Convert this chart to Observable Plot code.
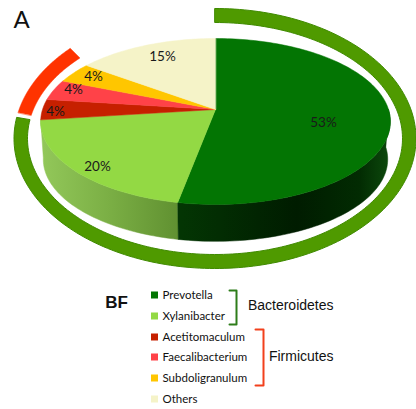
<!DOCTYPE html>
<html><head><meta charset="utf-8">
<script src="https://cdn.jsdelivr.net/npm/d3@7"></script>
<script src="https://cdn.jsdelivr.net/npm/@observablehq/plot@0.6"></script>
<style>html,body{margin:0;padding:0;background:#fff}svg{display:block}</style>
</head><body><div id="chart"></div>
<script>
const genera = ["Prevotella","Xylanibacter","Acetitomaculum","Faecalibacterium","Subdoligranulum","Others"];
const shares = [53,20,4,4,4,15];
const colors = ["#037503","#93d944","#c62000","#ff4248","#ffc600","#f5f3c8"];
const phyla = ["Bacteroidetes","Firmicutes"];
const phylumColors = ["#4f9a00","#ff3300"];
const phylumSpans = [[0,0.776],[0.782,0.872]];

const W=416,H=409;
const cum=[0]; shares.forEach(s=>cum.push(cum[cum.length-1]+s/100));
// perspective disc: fraction around circle -> picture plane
const cP=-0.1446;
function disc(f,dy=0,sc=1){
  const t=f*2*Math.PI,u=Math.sin(t),v=-Math.cos(t),d=1+cP*v;
  return {x:215+173*sc*u/d, y:(65.5*sc*v+109)/d+dy-(sc<1?0:0)};
}
function arc(a,b,dy,sc){const n=Math.max(2,Math.ceil((b-a)*240));return d3.range(n+1).map(i=>disc(a+(b-a)*i/n,dy,sc));}
const slices=shares.map((s,i)=>[{x:215,y:109},...arc(cum[i],cum[i+1])]);
const wall=(a,b)=>[...arc(a,b),...arc(a,b,38,0.985).reverse()];
const ringPt=(f,rx,ry)=>{const t=f*2*Math.PI;return {x:214.5+rx*Math.sin(t),y:138-ry*Math.cos(t)};};
const band=([a,b],o=0)=>{const n=200,r=d3.range(n+1).map(i=>a+(b-a)*i/n);
  return [...r.map(f=>ringPt(f,201,130)),...r.reverse().map(f=>ringPt(f,187.5,116))];};

const legendY=[295,316,337,357,378,399];
const defs=()=>{const s=d3.create("svg:defs");
  const g=(id,stops,x1,x2)=>{const l=s.append("linearGradient").attr("id",id).attr("gradientUnits","userSpaceOnUse")
    .attr("x1",x1).attr("x2",x2).attr("y1",0).attr("y2",0);
    stops.forEach(([o,c])=>l.append("stop").attr("offset",o).attr("stop-color",c));};
  g("wallLight",[[0,"#93c85a"],[0.5,"#7aae44"],[1,"#5f8f30"]],40,181);
  g("wallDark",[[0,"#033503"],[0.55,"#001c00"],[0.85,"#022b02"],[1,"#0d4a0d"]],181,390);
  return s.node();};
const poly=(pts,fill,extra={})=>Plot.line(pts,{x:"x",y:"y",fill,stroke:fill,strokeWidth:0.5,curve:"linear-closed",...extra});
const labelPos=[[323,122],[97,166],[55,111],[73,89],[93,76],[162,56]];

const plot=Plot.plot({
  width:W,height:H,margin:0,
  x:{domain:[0,W],range:[0,W],axis:null},
  y:{domain:[0,H],range:[0,H],axis:null},
  style:{background:"#fff"},
  marks:[
    defs,
    poly(wall(0.53,0.73),"url(#wallLight)"),
    poly(wall(0.25,0.53),"url(#wallDark)"),
    ...slices.map((p,i)=>poly(p,colors[i])),
    poly(band(phylumSpans[0]),phylumColors[0],{stroke:"#3f8a00",strokeWidth:1}),
    poly(band(phylumSpans[1]),phylumColors[1]),
    Plot.text(shares.map((s,i)=>({t:s+"%",p:labelPos[i]})),{x:d=>d.p[0],y:d=>d.p[1],text:"t",fontFamily:"Lato",fontSize:13.5,fill:"#1a1a1a"}),
    Plot.text(["A"],{x:()=>21,y:()=>20,fontFamily:"Lato",fontSize:24,fill:"#111"}),
    Plot.text(["BF"],{x:()=>116,y:()=>302,fontFamily:"Liberation Sans",fontWeight:"bold",fontSize:17,fill:"#111"}),
    Plot.rect(genera,{x1:()=>151,x2:()=>158,y1:(d,i)=>legendY[i]-3.5,y2:(d,i)=>legendY[i]+3.5,fill:(d,i)=>colors[i]}),
    Plot.text(genera,{x:()=>162,y:(d,i)=>legendY[i],text:d=>d,textAnchor:"start",fontFamily:"Lato",fontSize:11.5,fill:"#111"}),
    Plot.line([{x:229,y:290},{x:236,y:290},{x:236,y:324},{x:229,y:324}],{x:"x",y:"y",stroke:"#2e7d1a",strokeWidth:2}),
    Plot.line([{x:255,y:329},{x:263,y:329},{x:263,y:385},{x:255,y:385}],{x:"x",y:"y",stroke:"#f2401c",strokeWidth:2}),
    Plot.text(phyla,{x:(d,i)=>[333,333][i],y:(d,i)=>[305,356][i],text:d=>d,textAnchor:"end",fontFamily:"Liberation Sans",fontSize:14,fill:"#111"})
  ]
});
document.getElementById("chart").append(plot);
</script></body></html>
